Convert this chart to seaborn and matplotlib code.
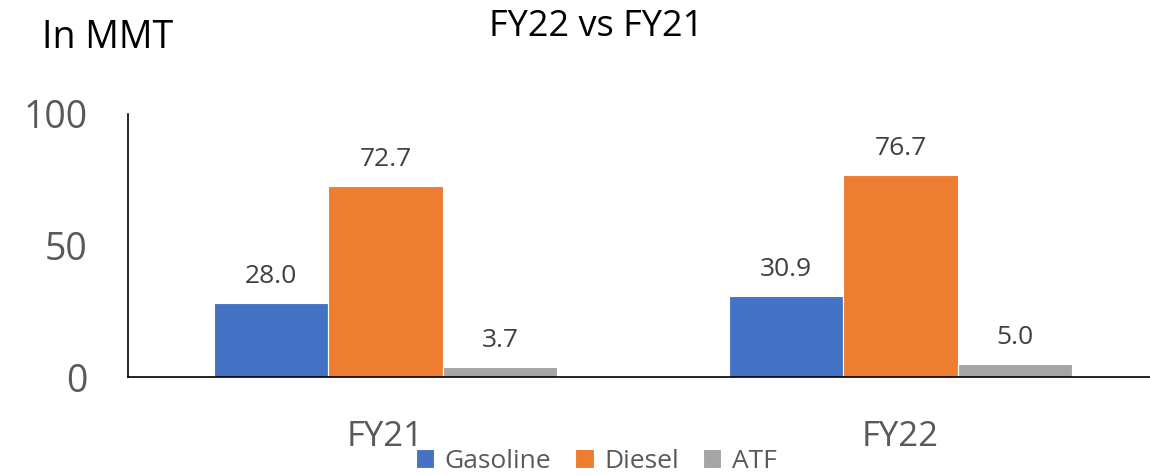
import matplotlib
matplotlib.use("Agg")
import matplotlib.pyplot as plt
import pandas as pd
import seaborn as sns

years = ["FY21", "FY22"]
products = ["Gasoline", "Diesel", "ATF"]
gasoline = [28.0, 30.9]
diesel = [72.7, 76.7]
atf = [3.7, 5.0]
colors = ["#4472C4", "#ED7D31", "#A5A5A5"]

df = pd.DataFrame({
    "year": years * 3,
    "product": [p for p in products for _ in years],
    "value": gasoline + diesel + atf,
})

sns.set_theme(style="white")
plt.rcParams["font.family"] = ["Open Sans", "DejaVu Sans"]
grey = "#595959"

fig = plt.figure(figsize=(11.5, 4.75), dpi=100)
ax = fig.add_axes([128 / 1150, 98 / 475, 1030 / 1150, 263 / 475])

sns.barplot(data=df, x="year", y="value", hue="product", hue_order=products,
            palette=colors, width=0.667, gap=0, saturation=1, ax=ax,
            edgecolor="white", linewidth=0.8)

for c in ax.containers:
    ax.bar_label(c, fmt="%.1f", padding=10, fontsize=19, color="#404040")

ax.set_xlim(-0.5, 1.5)
ax.set_ylim(0, 100)
ax.set_yticks([0, 50, 100])
ax.tick_params(axis="both", length=0, colors=grey)
ax.tick_params(axis="y", pad=29, labelsize=27)
ax.tick_params(axis="x", pad=31, labelsize=25)
ax.set_xlabel("")
ax.set_ylabel("")
for s in ["top", "right"]:
    ax.spines[s].set_visible(False)
ax.spines["left"].set_color("black")
ax.spines["bottom"].set_color("black")
ax.spines["left"].set_linewidth(1.2)
ax.spines["bottom"].set_linewidth(1.2)

fig.text(42 / 1150, 1 - 38 / 475, "In MMT", fontsize=27, color="black", va="center")
fig.text(596 / 1150, 1 - 27 / 475, "FY22 vs FY21", fontsize=26, color="black",
         ha="center", va="center")

ax.legend(loc="center", bbox_to_anchor=(596 / 1150, 1 - 461 / 475),
          bbox_transform=fig.transFigure, ncol=3, frameon=False, fontsize=19,
          labelcolor=grey, handlelength=0.7, handleheight=0.7,
          handletextpad=0.4, columnspacing=0.9)

fig.savefig("out.png", dpi=100)
